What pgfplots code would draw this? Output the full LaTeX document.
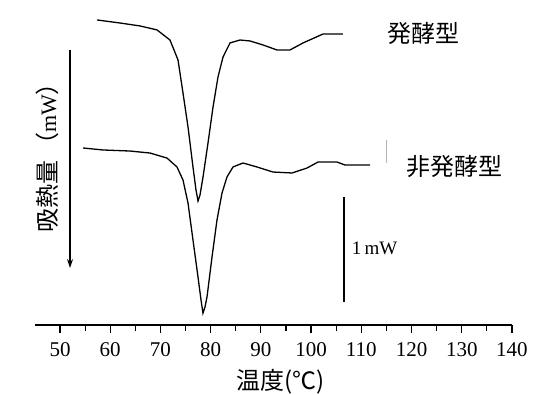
\documentclass[border=0pt]{standalone}
\usepackage{pgfplots}
\pgfplotsset{compat=1.18}
\usepackage{fontspec}
\setmainfont{Liberation Serif}
\newfontfamily\cjk{Noto Sans CJK JP}
\usetikzlibrary{arrows.meta}
\begin{document}
\begin{tikzpicture}
\begin{axis}[
  scale only axis,
  width=477pt, height=325pt,
  xmin=45, xmax=140, ymin=0, ymax=3.095,
  axis x line=bottom, axis y line=none,
  axis line style={line width=1.4pt, -},
  xtick={50,60,...,140},
  minor x tick num=1,
  tick align=outside,
  major tick length=8pt, minor tick length=6pt,
  every tick/.style={line width=1.2pt, black},
  xticklabel style={font=\fontsize{21}{24}\selectfont, yshift=-6pt},
  /pgf/number format/assume math mode=true,
  clip=false,
]
\addplot[black, line width=1.3pt] coordinates {
(57.37,2.905) (61.95,2.876) (65.93,2.848) (69.32,2.810) (71.90,2.714)
(73.50,2.524) (74.49,2.210) (75.49,1.886) (76.48,1.505) (77.08,1.286)
(77.48,1.181) (77.88,1.238) (78.48,1.410) (79.47,1.733) (80.47,2.076)
(81.46,2.362) (82.46,2.552) (83.85,2.686) (85.84,2.714) (87.83,2.705)
(90.42,2.667) (93.21,2.619) (95.80,2.619) (98.39,2.686) (102.37,2.771)
(106.35,2.771)
};
\addplot[black, line width=1.3pt] coordinates {
(54.58,1.686) (58.56,1.667) (63.94,1.657) (67.92,1.638) (71.31,1.590)
(73.30,1.505) (74.49,1.381) (75.49,1.162) (76.48,0.810) (77.48,0.457)
(78.08,0.238) (78.47,0.114) (78.87,0.171) (79.27,0.267) (80.27,0.648)
(81.26,1.000) (82.26,1.257) (83.25,1.410) (84.45,1.505) (86.44,1.543)
(89.23,1.505) (92.41,1.457) (96.20,1.448) (99.18,1.495) (101.37,1.552)
(105.16,1.552) (106.75,1.524) (111.73,1.524)
};
% scale bar
\draw[black, line width=1.4pt] (axis cs:106.55,1.219) -- (axis cs:106.55,0.219);
\node[anchor=west, font=\fontsize{19}{22}\selectfont, inner sep=0pt] at (axis cs:108.1,0.733) {1\,mW};
% y arrow
\draw[black, line width=1.2pt, -{Stealth[length=9pt,width=6pt]}] (axis cs:52,2.619) -- (axis cs:52,0.543);
\node[rotate=90, font=\cjk\fontsize{24}{28}\selectfont, inner sep=0pt] at (axis cs:47.41,1.648) {吸熱量\,（{\rmfamily\fontsize{22}{26}\selectfont mW}）};
% series labels
\node[font=\cjk\fontsize{24}{28}\selectfont, inner sep=0pt] at (axis cs:122.48,2.781) {発酵型};
\node[font=\cjk\fontsize{24}{28}\selectfont, inner sep=0pt] at (axis cs:128.65,1.505) {非発酵型};
\draw[gray!60, line width=1pt] (axis cs:115.1,1.76) -- (axis cs:115.1,1.54);
% x label
\node[font=\cjk\fontsize{24}{28}\selectfont, inner sep=0pt] at (axis cs:94.0,-0.543) {温度(℃)};
\coordinate (bl) at (axis cs:38.05,-0.657);
\coordinate (tr) at (axis cs:146.38,3.095);
\end{axis}
\pgfresetboundingbox
\path (bl) rectangle (tr);
\end{tikzpicture}
\end{document}
